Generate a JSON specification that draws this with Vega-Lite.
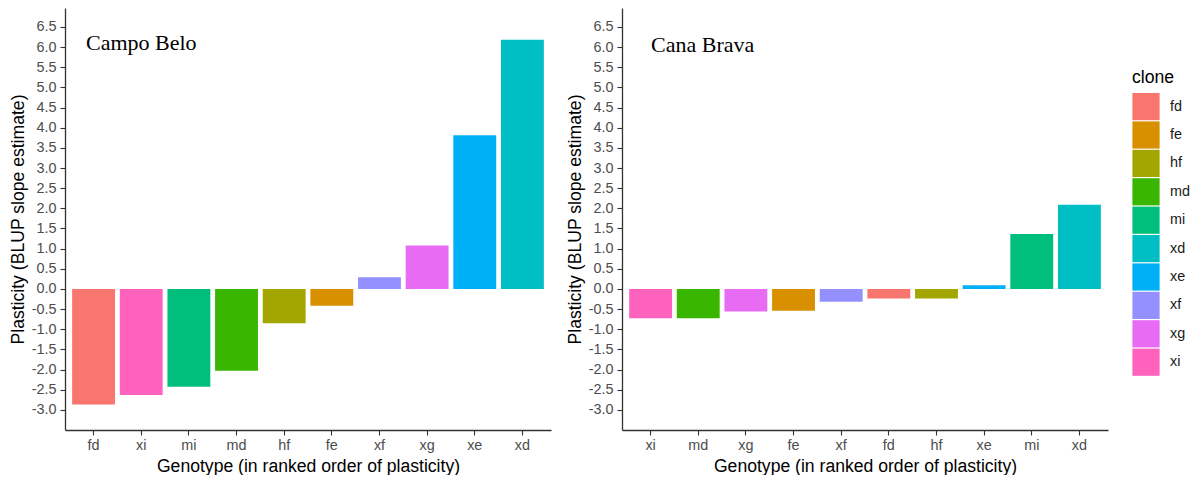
{
  "$schema": "https://vega.github.io/schema/vega-lite/v6.json",
  "background": "white",
  "padding": {"left": 9, "top": 8, "right": 0, "bottom": 0},
  "spacing": 15,
  "data": {
    "values": [
      {"site": "Campo Belo", "clone": "fd", "value": -2.87},
      {"site": "Campo Belo", "clone": "xi", "value": -2.63},
      {"site": "Campo Belo", "clone": "mi", "value": -2.43},
      {"site": "Campo Belo", "clone": "md", "value": -2.03},
      {"site": "Campo Belo", "clone": "hf", "value": -0.85},
      {"site": "Campo Belo", "clone": "fe", "value": -0.42},
      {"site": "Campo Belo", "clone": "xf", "value": 0.29},
      {"site": "Campo Belo", "clone": "xg", "value": 1.08},
      {"site": "Campo Belo", "clone": "xe", "value": 3.81},
      {"site": "Campo Belo", "clone": "xd", "value": 6.18},
      {"site": "Cana Brava", "clone": "xi", "value": -0.73},
      {"site": "Cana Brava", "clone": "md", "value": -0.73},
      {"site": "Cana Brava", "clone": "xg", "value": -0.56},
      {"site": "Cana Brava", "clone": "fe", "value": -0.54},
      {"site": "Cana Brava", "clone": "xf", "value": -0.32},
      {"site": "Cana Brava", "clone": "fd", "value": -0.24},
      {"site": "Cana Brava", "clone": "hf", "value": -0.24},
      {"site": "Cana Brava", "clone": "xe", "value": 0.09},
      {"site": "Cana Brava", "clone": "mi", "value": 1.36},
      {"site": "Cana Brava", "clone": "xd", "value": 2.09}
    ]
  },
  "config": {
    "view": {"stroke": null},
    "font": "Liberation Sans",
    "axis": {
      "grid": false,
      "domainColor": "#333333",
      "domainWidth": 1.3,
      "tickColor": "#333333",
      "tickSize": 5,
      "tickWidth": 1.1,
      "labelColor": "#4D4D4D",
      "labelFont": "Liberation Sans",
      "labelFontSize": 14.4,
      "titleFont": "Liberation Sans",
      "titleFontSize": 17.6,
      "titleFontWeight": "normal",
      "titleColor": "#000000"
    },
    "axisX": {"labelPadding": 3, "titlePadding": 6, "labelAngle": 0},
    "axisY": {"labelPadding": 4, "titlePadding": 4},
    "legend": {
      "padding": 0,
      "symbolType": "square",
      "symbolSize": 740,
      "symbolStrokeWidth": 0,
      "symbolOpacity": 1,
      "rowPadding": 0.4,
      "labelFont": "Liberation Sans",
      "labelFontSize": 14.4,
      "labelColor": "#1A1A1A",
      "labelOffset": 10,
      "titleFont": "Liberation Sans",
      "titleFontSize": 17.6,
      "titleFontWeight": "normal",
      "titleColor": "#000000",
      "titlePadding": 6
    }
  },
  "hconcat": [
    {
      "width": 486,
      "height": 422,
      "title": {
        "text": "Campo Belo",
        "font": "Liberation Serif",
        "fontSize": 22,
        "fontWeight": "normal",
        "color": "#000000",
        "anchor": "start",
        "frame": "group",
        "orient": "top",
        "baseline": "alphabetic",
        "offset": -64,
        "dx": 21
      },
      "transform": [{"filter": "datum.site === 'Campo Belo'"}],
      "mark": {"type": "bar"},
      "encoding": {
        "x": {
          "field": "clone",
          "type": "nominal",
          "sort": ["fd", "xi", "mi", "md", "hf", "fe", "xf", "xg", "xe", "xd"],
          "scale": {"paddingInner": 0.1, "paddingOuter": 0.15},
          "axis": {"title": "Genotype (in ranked order of plasticity)"}
        },
        "y": {
          "field": "value",
          "type": "quantitative",
          "scale": {"domain": [-3.5, 6.97], "nice": false, "zero": false},
          "axis": {
            "title": "Plasticity (BLUP slope estimate)",
            "values": [-3, -2.5, -2, -1.5, -1, -0.5, 0, 0.5, 1, 1.5, 2, 2.5, 3, 3.5, 4, 4.5, 5, 5.5, 6, 6.5],
            "labelExpr": "replace(format(datum.value, '.1f'), '\u2212', '-')"
          }
        },
        "y2": {"datum": 0},
        "color": {
          "field": "clone",
          "type": "nominal",
          "scale": {
            "domain": ["fd", "fe", "hf", "md", "mi", "xd", "xe", "xf", "xg", "xi"],
            "range": ["#F8766D", "#D89000", "#A3A500", "#39B600", "#00BF7D", "#00BFC4", "#00B0F6", "#9590FF", "#E76BF3", "#FF62BC"]
          },
          "legend": {"title": "clone", "orient": "none", "legendX": 1067, "legendY": 61}
        }
      }
    },
    {
      "width": 486,
      "height": 422,
      "title": {
        "text": "Cana Brava",
        "font": "Liberation Serif",
        "fontSize": 22,
        "fontWeight": "normal",
        "color": "#000000",
        "anchor": "start",
        "frame": "group",
        "orient": "top",
        "baseline": "alphabetic",
        "offset": -66,
        "dx": 29
      },
      "transform": [{"filter": "datum.site === 'Cana Brava'"}],
      "mark": {"type": "bar"},
      "encoding": {
        "x": {
          "field": "clone",
          "type": "nominal",
          "sort": ["xi", "md", "xg", "fe", "xf", "fd", "hf", "xe", "mi", "xd"],
          "scale": {"paddingInner": 0.1, "paddingOuter": 0.15},
          "axis": {"title": "Genotype (in ranked order of plasticity)"}
        },
        "y": {
          "field": "value",
          "type": "quantitative",
          "scale": {"domain": [-3.5, 6.97], "nice": false, "zero": false},
          "axis": {
            "title": "Plasticity (BLUP slope estimate)",
            "values": [-3, -2.5, -2, -1.5, -1, -0.5, 0, 0.5, 1, 1.5, 2, 2.5, 3, 3.5, 4, 4.5, 5, 5.5, 6, 6.5],
            "labelExpr": "replace(format(datum.value, '.1f'), '\u2212', '-')"
          }
        },
        "y2": {"datum": 0},
        "color": {
          "field": "clone",
          "type": "nominal",
          "legend": {"title": "clone", "orient": "none", "legendX": 1067, "legendY": 61}
        }
      }
    }
  ]
}
